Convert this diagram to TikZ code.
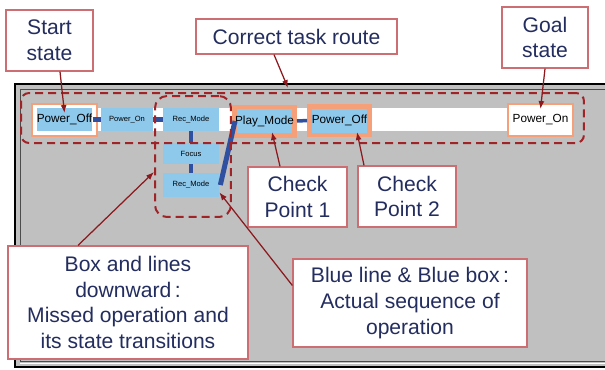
\documentclass[tikz,border=0pt]{standalone}
\usepackage{fontspec}
\setmainfont{Liberation Sans}
\usetikzlibrary{arrows.meta}
\definecolor{stblue}{RGB}{142,200,235}
\definecolor{linkblue}{RGB}{47,80,160}
\definecolor{salmon}{RGB}{245,160,120}
\definecolor{dashred}{RGB}{160,35,40}
\definecolor{arrowred}{RGB}{140,25,30}
\definecolor{calloutline}{RGB}{205,110,115}
\definecolor{navytext}{RGB}{35,45,95}
\definecolor{wingray}{RGB}{192,192,192}

\begin{document}
\begin{tikzpicture}[x=0.02cm, y=-0.02cm,
	state/.style={fill=stblue, inner sep=0pt, minimum width=1.12cm, minimum height=0.46cm, font=\fontsize{4.3}{5}\selectfont},
	bigstate/.style={state, minimum width=1.1cm, font=\fontsize{6.7}{8}\selectfont},
	checkstate/.style={bigstate, draw=salmon, line width=0.09cm, minimum width=1.21cm, minimum height=0.57cm},
	goalstate/.style={bigstate, fill=white, draw=salmon, line width=0.03cm, minimum width=1.3cm, minimum height=0.64cm},
	link/.style={line width=0.1cm, color=linkblue},
	routebox/.style={draw=dashred, line width=0.04cm, dash pattern=on 0.16cm off 0.1cm, rounded corners=0.16cm, inner sep=0pt},
	callout/.style={draw=calloutline, fill=white, line width=0.025cm, text=navytext, align=center, inner sep=0pt, font=\fontsize{12}{14.7}\selectfont},
	callarrow/.style={-{Latex[length=0.16cm, width=0.12cm]}, color=arrowred, line width=0.025cm}]
		%%%%% START %%%%%
		
		\useasboundingbox (0,0) rectangle (605,369);
		\clip (0,0) rectangle (605,369);
		\fill[white] (0,0) rectangle (605,369);
		
		% window
		\draw[line width=0.04cm, fill=wingray] (15,84) rectangle (640,367);
		\draw[line width=0.02cm, color=black!70] (20,89) rectangle (640,361);
		\draw[line width=0.03cm, color=white] (20,363.5) -- (640,363.5);
		
		% row
		\fill[white] (97,108) rectangle (508,131);
		\draw[fill=white, draw=salmon, line width=0.03cm] (32,104) rectangle (97,136);
		
		\node[bigstate] (poff) at (64.5,119.5) {Power\_Off};
		\node[state, minimum width=1.04cm] (pon) at (127,119.5) {Power\_On};
		\node[state] (rec1) at (191,119.5) {Rec\_Mode};
		\node[state, minimum height=0.42cm] (focus) at (191,153.5) {Focus};
		\node[state, minimum height=0.48cm] (rec2) at (191,185) {Rec\_Mode};
		\node[checkstate] (play) at (264.5,121) {Play\_Mode};
		\node[checkstate] (poff2) at (339.5,120.5) {Power\_Off};
		\node[goalstate] (pon2) at (540.5,120) {Power\_On};
		
		\draw[link] (poff) -- (pon);
		\draw[link] (pon) -- (rec1);
		\draw[link, line width=0.08cm] (rec1) -- (focus);
		\draw[link, line width=0.08cm] (focus) -- (rec2);
		\draw[link] ([xshift=0.02cm]rec2.east) -- ([xshift=0.06cm]play.west);
		\draw[link, line width=0.07cm] (play) -- (poff2);
		
		% dashed groups
		\node[routebox, minimum width=11.26cm, minimum height=1cm] (route) at (302.5,118) {};
		\node[routebox, minimum width=1.52cm, minimum height=2.42cm, rounded corners=0.24cm] (missedbox) at (193,156.5) {};
		
		% callouts
		\node[callout, minimum width=1.74cm, minimum height=1.22cm] (startlbl) at (49.5,40.5) {Start\\state};
		\node[callout, minimum width=4.02cm, minimum height=0.7cm] (routelbl) at (296.5,36.5) {Correct task route};
		\node[callout, minimum width=1.72cm, minimum height=1.22cm] (goallbl) at (545,37.5) {Goal\\state};
		\node[callout, minimum width=1.98cm, minimum height=1.2cm] (cp1lbl) at (297.5,197) {Check\\Point 1};
		\node[callout, minimum width=1.96cm, minimum height=1.22cm] (cp2lbl) at (407,196.5) {Check\\Point 2};
		\node[callout, minimum width=4.8cm, minimum height=2.26cm] (missedlbl) at (128,302.5) {Box and lines\\downward\,:\\Missed operation and\\its state transitions};
		\node[callout, minimum width=4.68cm, minimum height=1.76cm] (actuallbl) at (410,303) {Blue line \& Blue box\,:\\Actual sequence of\\operation};
		
		\coordinate (wintop) at (288,88);
		\draw[callarrow] ([xshift=0.21cm]startlbl.south) -- ([yshift=0.13cm]poff.center);
		\draw[callarrow] ([xshift=-0.45cm]routelbl.south) -- (wintop);
		\draw[callarrow] (goallbl.south) -- ([yshift=0.22cm]pon2.center);
		\draw[callarrow] ([xshift=-0.35cm]cp1lbl.north) -- ([xshift=0.15cm, yshift=0.11cm]play.south);
		\draw[callarrow] ([xshift=-0.86cm]cp2lbl.north) -- ([xshift=0.35cm, yshift=0.1cm]poff2.south);
		\draw[callarrow] ([xshift=-1cm]missedlbl.north) -- ([yshift=-0.31cm]missedbox.west);
		\draw[callarrow] ([yshift=0.35cm]actuallbl.west) -- ([yshift=0.1cm]rec2.south east);
		
		%%%%% END %%%%%
\end{tikzpicture}
\end{document}
